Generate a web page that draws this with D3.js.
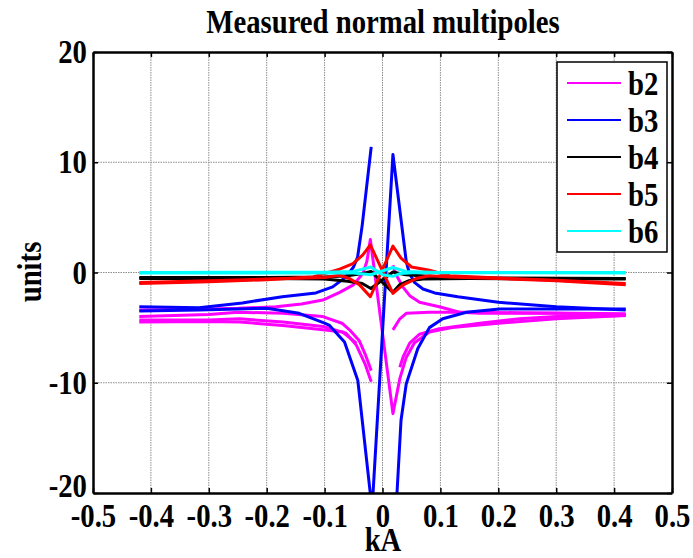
<!DOCTYPE html>
<html>
<head>
<meta charset="utf-8">
<script src="https://cdn.jsdelivr.net/npm/d3@7"></script>
<style>
  body { margin: 0; background: #fff; }
  svg { display: block; }
</style>
</head>
<body>
<svg id="chart"></svg>
<script>
// values: each branch is a list of [kA, units]
const xTicks = [-0.5, -0.4, -0.3, -0.2, -0.1, 0, 0.1, 0.2, 0.3, 0.4, 0.5];
const yTicks = [-20, -10, 0, 10, 20];
const seriesNames = ["b2", "b3", "b4", "b5", "b6"];
const seriesColors = ["#ff00ff", "#0000ff", "#000000", "#ff0000", "#00ffff"];

// b2 (magenta)
const b2_up = [[-0.42,-3.4],[-0.35,-3.35],[-0.3,-3.3],[-0.25,-3.25],[-0.184,-3.1],[-0.14,-2.85],[-0.103,-2.5],[-0.074,-1.8],[-0.051,-1.15],[-0.034,-0.1],[-0.027,1.0],[-0.021,3.0],[0.018,-12.8],[0.03,-9.6],[0.041,-7.7],[0.055,-6.4],[0.081,-5.4],[0.12,-5.0],[0.2,-4.6],[0.3,-4.2],[0.42,-3.9]];
const b2_left1 = [[-0.42,-4.0],[-0.3,-3.8],[-0.25,-3.6],[-0.172,-3.7],[-0.103,-4.0],[-0.07,-4.6],[-0.057,-5.2],[-0.04,-6.2],[-0.03,-7.4],[-0.0195,-8.9]];
const b2_left2 = [[-0.42,-4.3],[-0.3,-4.3],[-0.247,-4.2],[-0.172,-4.5],[-0.103,-4.9],[-0.063,-5.5],[-0.045,-6.6],[-0.03,-8.3],[-0.0195,-9.9]];
const b2_left3 = [[-0.42,-4.5],[-0.3,-4.45],[-0.247,-4.5],[-0.172,-4.8],[-0.103,-5.2],[-0.069,-5.4],[-0.045,-6.4]];
const b2_right1 = [[0.018,0.66],[0.024,-0.25],[0.035,-1.3],[0.047,-2.1],[0.064,-2.7],[0.098,-3.1],[0.133,-3.6],[0.168,-3.7],[0.237,-3.7],[0.3,-3.7],[0.42,-3.8]];
const b2_right2 = [[0.018,-5.2],[0.03,-4.2],[0.041,-3.7],[0.081,-3.6],[0.15,-3.6],[0.237,-3.65],[0.42,-3.75]];
const b2_right3 = [[0.03,-8.6],[0.036,-7.6],[0.047,-6.4],[0.064,-5.6],[0.098,-5.1],[0.168,-4.6],[0.237,-4.2],[0.3,-4.0],[0.42,-3.9]];

// b3 (blue)
const b3_up = [[-0.42,-3.5],[-0.317,-3.4],[-0.25,-3.3],[-0.2,-3.25],[-0.144,-3.7],[-0.1,-4.6],[-0.0915,-4.8],[-0.0656,-6.3],[-0.0426,-9.8],[-0.018,-21.5],[0.018,10.7],[0.041,1.0],[0.046,0],[0.055,-0.9],[0.07,-1.5],[0.09,-1.85],[0.13,-2.2],[0.2,-2.7],[0.3,-3.1],[0.42,-3.4]];
const b3_down_right = [[0.42,-3.3],[0.3,-3.3],[0.202,-3.3],[0.145,-3.6],[0.104,-4.2],[0.081,-5.0],[0.061,-6.9],[0.041,-10.1],[0.032,-13.4],[0.024,-21]];
const b3_down_left = [[-0.0195,11.4],[-0.035,4.3],[-0.043,1.4],[-0.05,0.5],[-0.063,-0.4],[-0.086,-1.3],[-0.115,-1.85],[-0.173,-2.2],[-0.242,-2.76],[-0.317,-3.2],[-0.42,-3.1]];

// b4 (black)
const b4_a = [[-0.42,-0.45],[-0.2,-0.45],[-0.1,-0.4],[-0.06,-0.3],[-0.035,-0.1],[-0.02,0.1],[0.018,-1.8],[0.03,-1.1],[0.045,-0.75],[0.07,-0.6],[0.15,-0.55],[0.42,-0.6]];
const b4_b = [[-0.42,-0.55],[-0.2,-0.55],[-0.1,-0.6],[-0.06,-0.8],[-0.035,-1.0],[-0.02,-1.45],[0.018,0.05],[0.04,-0.2],[0.1,-0.4],[0.2,-0.5],[0.42,-0.55]];

// b5 (red)
const b5_a = [[-0.42,-1.0],[-0.3,-0.85],[-0.2,-0.65],[-0.12,-0.4],[-0.074,0.3],[-0.051,0.8],[-0.034,1.6],[-0.021,2.5],[0.018,-1.9],[0.035,-1.15],[0.058,-0.55],[0.081,-0.3],[0.116,-0.4],[0.2,-0.55],[0.3,-0.75],[0.42,-1.1]];
const b5_b = [[-0.42,-0.9],[-0.3,-0.75],[-0.2,-0.6],[-0.1,-0.45],[-0.074,-0.25],[-0.057,-0.55],[-0.04,-1.1],[-0.021,-2.2],[0.018,2.4],[0.032,1.3],[0.05,0.5],[0.081,0.2],[0.116,-0.3],[0.2,-0.5],[0.3,-0.7],[0.42,-1.0]];

// b6 (cyan)
const b6_a = [[-0.42,0.0],[-0.1,0.02],[-0.05,0.1],[-0.02,0.5],[0.0,-0.2],[0.018,-0.35],[0.03,-0.1],[0.06,0.0],[0.42,-0.05]];
const b6_b = [[-0.42,-0.05],[-0.05,-0.05],[-0.02,-0.2],[0.018,0.45],[0.04,0.1],[0.1,0.0],[0.42,0.0]];

const seriesBranches = [
  [b2_up, b2_left1, b2_left2, b2_left3, b2_right1, b2_right2, b2_right3],
  [b3_up, b3_down_right, b3_down_left],
  [b4_a, b4_b],
  [b5_a, b5_b],
  [b6_a, b6_b]
];

const W = 693, H = 558;
const plot = {left: 93, right: 672, top: 52, bottom: 493};
const font = "'Liberation Serif', 'Times New Roman', serif";
const fontSize = "33px";
const squeeze = "scale(0.87,1)";

const svg = d3.select("#chart").attr("width", W).attr("height", H);
svg.append("rect").attr("width", W).attr("height", H).attr("fill", "#fff");

const x = d3.scaleLinear().domain([-0.5, 0.5]).range([plot.left, plot.right]);
const y = d3.scaleLinear().domain([-20, 20]).range([plot.bottom, plot.top]);

// dotted grid
const grid = svg.append("g")
  .attr("stroke", "#8c8c8c").attr("stroke-width", 1).attr("stroke-dasharray", "1.5,1");
grid.selectAll(".gx").data(xTicks.slice(1, -1)).join("line")
  .attr("x1", d => x(d)).attr("x2", d => x(d))
  .attr("y1", plot.top).attr("y2", plot.bottom);
grid.selectAll(".gy").data(yTicks.slice(1, -1)).join("line")
  .attr("x1", plot.left).attr("x2", plot.right)
  .attr("y1", d => y(d)).attr("y2", d => y(d));

// data lines, clipped to the axes box
svg.append("clipPath").attr("id", "clip").append("rect")
  .attr("x", plot.left).attr("y", plot.top)
  .attr("width", plot.right - plot.left).attr("height", plot.bottom - plot.top);

const line = d3.line().x(d => x(d[0])).y(d => y(d[1]));
const lines = svg.append("g").attr("clip-path", "url(#clip)");
seriesBranches.forEach((branches, i) => {
  lines.append("g")
    .selectAll("path").data(branches).join("path")
    .attr("d", line)
    .attr("fill", "none")
    .attr("stroke", seriesColors[i])
    .attr("stroke-width", 3)
    .attr("stroke-linejoin", "round");
});

// axes, ticks pointing inwards
function styleAxis(g) {
  g.select(".domain").attr("stroke", "#000").attr("stroke-width", 2.5);
  g.selectAll(".tick line").attr("stroke", "#000").attr("stroke-width", 1.5);
  g.selectAll("text")
    .attr("fill", "#000")
    .style("font-family", font).style("font-weight", "bold").style("font-size", fontSize)
    .attr("transform", squeeze);
}
// plain hyphen for negatives, like the original
const fmtX = d => d === 0 ? "0" : d.toFixed(1);
const fmtY = d => String(d);

svg.append("g").attr("transform", `translate(0,${plot.bottom})`)
  .call(d3.axisBottom(x).tickValues(xTicks).tickFormat(fmtX).tickSizeInner(-5).tickSizeOuter(0).tickPadding(11))
  .call(styleAxis);
svg.append("g").attr("transform", `translate(0,${plot.top})`)
  .call(d3.axisTop(x).tickValues(xTicks).tickFormat("").tickSizeInner(-5).tickSizeOuter(0))
  .call(styleAxis);
svg.append("g").attr("transform", `translate(${plot.left},0)`)
  .call(d3.axisLeft(y).tickValues(yTicks).tickFormat(fmtY).tickSizeInner(-5).tickSizeOuter(0).tickPadding(7))
  .call(styleAxis);
svg.append("g").attr("transform", `translate(${plot.right},0)`)
  .call(d3.axisRight(y).tickValues(yTicks).tickFormat("").tickSizeInner(-5).tickSizeOuter(0))
  .call(styleAxis);

// nudge the bottom y label up a little so it clears the -0.5 label
svg.selectAll("text").filter(function() { return this.textContent === "-20"; })
  .attr("dy", "0.1em");

// title and axis labels
function label(txt, px, py, rot) {
  svg.append("text")
    .attr("transform", `translate(${px},${py}) rotate(${rot || 0}) ${squeeze}`)
    .attr("text-anchor", "middle")
    .style("font-family", font).style("font-weight", "bold").style("font-size", fontSize)
    .text(txt);
}
label("Measured normal multipoles", 383, 33);
label("kA", 383, 551);
label("units", 41, 272, -90);

// legend
const legend = svg.append("g");
legend.append("rect")
  .attr("x", 557).attr("y", 62).attr("width", 110).attr("height", 190)
  .attr("fill", "#fff").attr("stroke", "#000").attr("stroke-width", 1.5);
seriesNames.forEach((name, i) => {
  const ly = 83 + i * 37;
  legend.append("line")
    .attr("x1", 567).attr("x2", 621).attr("y1", ly).attr("y2", ly)
    .attr("stroke", seriesColors[i]).attr("stroke-width", 2);
  legend.append("text")
    .attr("transform", `translate(628,${ly + 12}) ${squeeze}`)
    .style("font-family", font).style("font-weight", "bold").style("font-size", fontSize)
    .text(name);
});
</script>
</body>
</html>
